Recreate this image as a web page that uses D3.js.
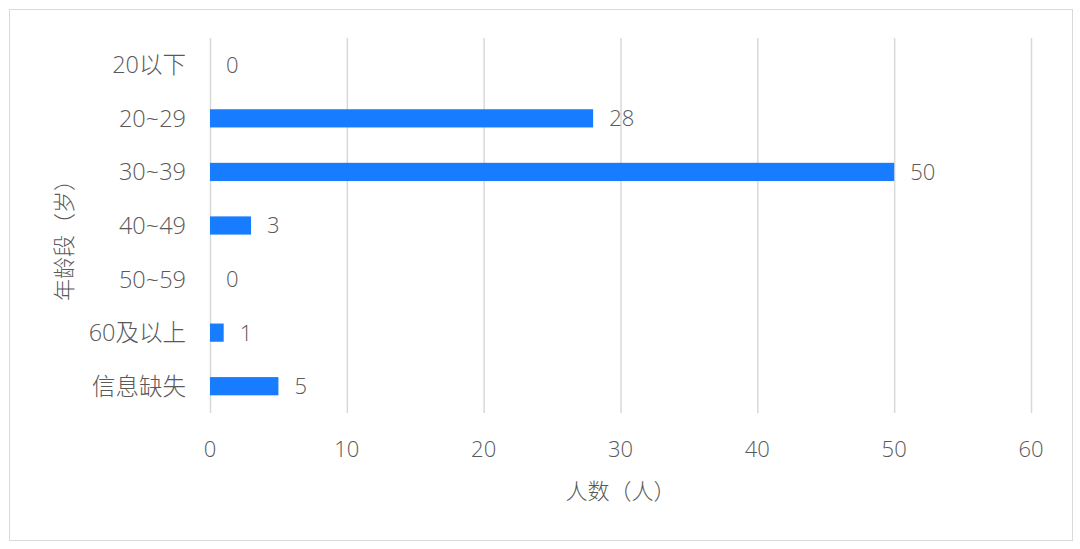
<!DOCTYPE html>
<html><head><meta charset="utf-8">
<script src="https://cdn.jsdelivr.net/npm/d3@7"></script>
<style>
body{margin:0;background:#fff;}
svg{display:block;font-family:"Open Sans","Noto Sans CJK SC",sans-serif;}
</style></head>
<body><svg id="c" width="1080" height="549"></svg>
<script>
const categories = ["20以下","20~29","30~39","40~49","50~59","60及以上","信息缺失"];
const values = [0,28,50,3,0,1,5];
const xTicks = [0,10,20,30,40,50,60];
const xTitle = "人数（人）";
const yTitle = "年龄段（岁）";

(function(){
const svg = d3.select("#c");
svg.append("rect").attr("x",9.5).attr("y",9.5).attr("width",1063).attr("height",531)
  .attr("fill","#fff").attr("stroke","#d9d9d9").attr("stroke-width",1);

const pL=210, pR=1031, pT=38, pB=413;
const x = d3.scaleLinear().domain([0,60]).range([pL,pR]);
const y = d3.scaleBand().domain(categories).range([pT,pB]).paddingInner(0.66).paddingOuter(0.33);

const textColor="#595959";
const fs=22;
svg.append("g").selectAll("line").data(xTicks).join("line")
  .attr("x1",d=>x(d)+0.5).attr("x2",d=>x(d)+0.5).attr("y1",pT).attr("y2",pB)
  .attr("stroke","#d9d9d9").attr("stroke-width",1.5);

svg.append("g").selectAll("text").data(xTicks).join("text")
  .attr("x",d=>x(d)).attr("y",457).attr("text-anchor","middle")
  .attr("font-size",fs).attr("font-weight",300).attr("fill",textColor).text(d=>d);

const yc = d=>y(d)+y.bandwidth()/2;
svg.append("g").selectAll("text").data(categories).join("text")
  .attr("x",186).attr("y",d=>yc(d)).attr("dy","0.36em").attr("text-anchor","end")
  .attr("font-size",23.5).attr("font-weight",300).attr("fill",textColor).text(d=>d);

svg.append("g").selectAll("rect").data(categories).join("rect")
  .attr("x",x(0)).attr("y",d=>y(d)).attr("height",y.bandwidth())
  .attr("width",(d,i)=>x(values[i])-x(0)).attr("fill","#177cff");

svg.append("g").selectAll("text").data(categories).join("text")
  .attr("x",(d,i)=>x(values[i])+16).attr("y",d=>yc(d)).attr("dy","0.36em")
  .attr("font-size",fs).attr("font-weight",300).attr("fill",textColor).text((d,i)=>values[i]);

svg.append("text").attr("x",(pL+pR)/2).attr("y",499).attr("text-anchor","middle")
  .attr("font-size",fs).attr("font-weight",300).attr("fill",textColor).text(xTitle);
svg.append("text").attr("transform",`translate(72,235) rotate(-90)`)
  .attr("text-anchor","middle").attr("font-size",fs).attr("font-weight",300).attr("fill",textColor).text(yTitle);
})();
</script></body></html>
